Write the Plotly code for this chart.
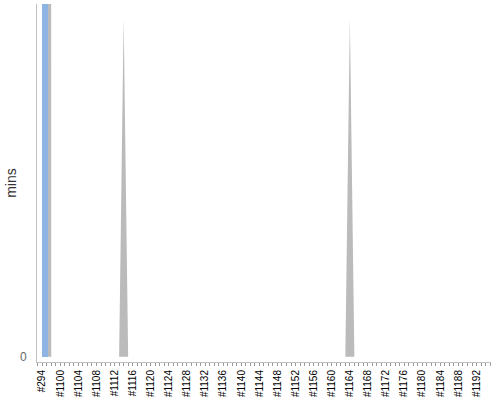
import plotly.graph_objects as go

# ---- data ----
builds = ["#294"] + [f"#{n}" for n in range(1097, 1196)]
# gray area series (mins); first two builds run off the top of the chart
area_mins = [0] * len(builds)
area_mins[0] = 5000
area_mins[1] = 5000
area_mins[builds.index("#1114")] = 96
area_mins[builds.index("#1164")] = 96
# blue bar series (mins)
bar_mins = [None] * len(builds)
bar_mins[0] = 150

label_every = 4
tick_builds = [b for i, b in enumerate(builds) if i % label_every == 0]

idx = list(range(len(builds)))
tick_idx = [builds.index(b) for b in tick_builds]

fig = go.Figure()
fig.add_trace(go.Scatter(
    x=idx, y=area_mins, mode="lines", fill="tozeroy",
    line=dict(width=0, color="#bbbbbb"), fillcolor="#bbbbbb",
    hoverinfo="skip", showlegend=False,
))
fig.add_trace(go.Bar(
    x=idx, y=bar_mins, width=1.28, offset=0,
    marker=dict(color="#8db4e2", line=dict(width=0)),
    yaxis="y2", showlegend=False,
))

yr = [-1.47, 100]
fig.update_layout(
    width=500, height=400,
    margin=dict(l=37, r=9, t=4, b=37.5),
    paper_bgcolor="white", plot_bgcolor="white",
    font=dict(family="Liberation Sans, Arial, sans-serif"),
    xaxis=dict(
        range=[-1.15, 99.2], tickmode="array", tickvals=tick_idx, ticktext=tick_builds,
        tickangle=-90, ticks="outside", ticklen=3, tickcolor="#999999",
        tickfont=dict(size=10, color="#000000"),
        showline=True, linecolor="#c0c0c0", linewidth=1,
        showgrid=False, zeroline=False, automargin=False,
        minor=dict(dtick=1, ticks="outside", ticklen=3, tickcolor="#999999", showgrid=False),
    ),
    yaxis=dict(
        range=yr, tickmode="array", tickvals=[0], ticktext=["0"],
        tickfont=dict(size=12, color="#666666"), ticks="",
        showline=True, linecolor="#c0c0c0", linewidth=1,
        showgrid=False, zeroline=False, ticklabelstandoff=7, automargin=False,
        title=dict(text="mins", font=dict(size=14, color="#333333"), standoff=0),
    ),
    yaxis2=dict(
        range=yr, overlaying="y", visible=False, showgrid=False, zeroline=False,
    ),
    bargap=0,
)

fig.write_html(
    "out.html",
    config={"displayModeBar": False},
    post_script="document.body.style.margin='0';document.body.style.padding='0';",
)
